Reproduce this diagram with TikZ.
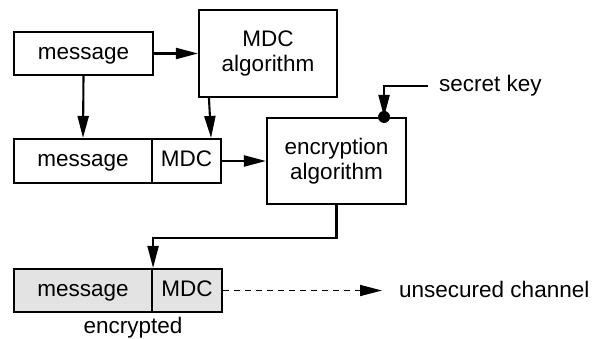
\documentclass[tikz,border=0pt]{standalone}
\usepackage{fontspec}
\setmainfont{Liberation Sans}
\usetikzlibrary{arrows.meta,calc}
\begin{document}
\begin{tikzpicture}[x=1pt,y=-1pt,
  box/.style={draw, line width=2.1pt, inner sep=0pt, align=center,
    font=\fontsize{22.5}{25.5}\selectfont},
  oneline/.style={box, text height=16pt, text depth=5pt},
  shaded/.style={oneline, fill=black!11},
  arr/.style={line width=2.1pt, -{Triangle[length=22pt,width=11pt]}},
  lbl/.style={inner sep=0pt, font=\fontsize{22.5}{25.5}\selectfont}]
\useasboundingbox (0,0) rectangle (594,338);

% sender: plain message and the MDC generator
\node[oneline, minimum width=139pt, minimum height=43pt] (msgA) at (83.5,53.5) {message};
\node[box, minimum width=138pt, minimum height=87pt] (mdcalg) at (268,53.5) {MDC\\algorithm};

% message with appended MDC
\node[oneline, minimum width=138pt, minimum height=44pt] (msgB) at (83,161) {message};
\node[oneline, minimum width=69pt, minimum height=44pt] (mdcB) at (186.5,161) {MDC};

% encryption stage
\node[box, minimum width=139pt, minimum height=86pt] (enc) at (336.5,161) {encryption\\algorithm};

% encrypted output
\node[shaded, minimum width=138pt, minimum height=43pt] (msgC) at (83,290.5) {message};
\node[shaded, minimum width=70pt, minimum height=43pt] (mdcC) at (187,290.5) {MDC};
\node[lbl, anchor=base] (encl) at (133,333) {encrypted};

% labels on the right
\node[lbl, anchor=west, inner xsep=11pt] (key) at (428,86) {secret key};
\node[lbl, anchor=base west] (chan) at (399,297) {unsecured channel};
\coordinate (dot) at ($(enc.north east)+(-23,0)$);
\coordinate (tip) at (382,292);

% connectors
\draw[arr] (msgA.east) -- (mdcalg.west);
\draw[arr] (msgA.south) -- (msgB.north);
\draw[arr] ($(mdcalg.south west)+(11,0)$) -- ($(mdcB.north east)+(-11,0)$);
\draw[arr] (mdcB.east) -- (enc.west);
\draw[arr] (key.west) -| (dot);
\fill (dot) circle (6pt);
\draw[arr] (enc.south) -- ++(0,33) -| (msgC.north east);
\draw[arr, line width=1.5pt, dash pattern=on 6pt off 5pt] (mdcC.east) -- (mdcC.east -| tip);
\end{tikzpicture}
\end{document}
